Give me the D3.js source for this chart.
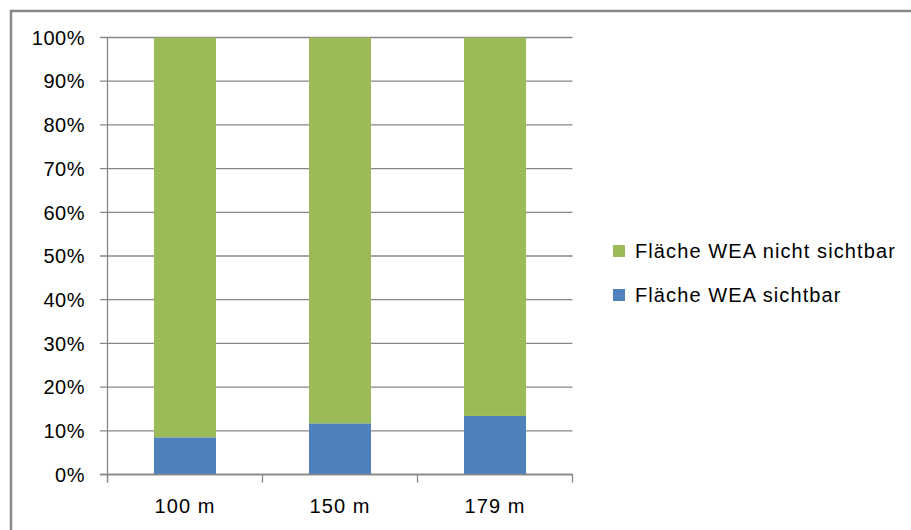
<!DOCTYPE html>
<html>
<head>
<meta charset="utf-8">
<script src="https://cdn.jsdelivr.net/npm/d3@7"></script>
<style>
  html, body { margin: 0; padding: 0; background: #fff; }
  svg { display: block; }
  text { font-family: "Liberation Sans", Arial, sans-serif; fill: #000; }
</style>
</head>
<body>
<svg id="chart" width="911" height="530"></svg>
<script>
const categories = ["100 m", "150 m", "179 m"];
const visible = [0.085, 0.117, 0.134];
const notVisible = [0.915, 0.883, 0.866];
const seriesNames = ["Fläche WEA sichtbar", "Fläche WEA nicht sichtbar"];
const seriesColors = ["#4F81BD", "#9BBB59"];
const yTicks = [0, 0.1, 0.2, 0.3, 0.4, 0.5, 0.6, 0.7, 0.8, 0.9, 1.0];

const svg = d3.select("#chart");
const gridColor = "#878787";

// outer frame (left and top edges visible)
svg.append("path")
  .attr("d", "M11,530 L11,11 L911,11")
  .attr("fill", "none")
  .attr("stroke", gridColor)
  .attr("stroke-width", 2.5);

const x = d3.scaleBand().domain(categories).range([107.5, 572.5]).paddingInner(0.6).paddingOuter(0.3);
const y = d3.scaleLinear().domain([0, 1]).range([474.5, 37.5]);

// gridlines + y ticks
svg.append("g").selectAll("line").data(yTicks).join("line")
  .attr("x1", 100).attr("x2", 572.5)
  .attr("y1", d => y(d)).attr("y2", d => y(d))
  .attr("stroke", gridColor).attr("stroke-width", 1.3);

// y labels
svg.append("g").selectAll("text").data(yTicks).join("text")
  .attr("x", 85).attr("y", d => y(d)).attr("dy", "0.36em")
  .attr("text-anchor", "end")
  .style("font-size", "20px")
  .style("letter-spacing", "0.5px")
  .text(d => d3.format(".0%")(d));

// stacked data
const data = categories.map((c, i) => ({ cat: c, s0: visible[i], s1: notVisible[i] }));
const stack = d3.stack().keys(["s0", "s1"])(data);

svg.append("g").selectAll("g").data(stack).join("g")
  .attr("fill", (d, i) => seriesColors[i])
  .selectAll("rect").data(d => d).join("rect")
  .attr("x", d => x(d.data.cat))
  .attr("width", x.bandwidth())
  .attr("y", d => y(d[1]))
  .attr("height", d => y(d[0]) - y(d[1]));

// y axis line
svg.append("line")
  .attr("x1", 107.5).attr("x2", 107.5).attr("y1", 37.5).attr("y2", 482.5)
  .attr("stroke", gridColor).attr("stroke-width", 1.3);

// x axis baseline
svg.append("line")
  .attr("x1", 100).attr("x2", 572.5).attr("y1", y(0)).attr("y2", y(0))
  .attr("stroke", gridColor).attr("stroke-width", 1.3);

// category boundary ticks
const step = x.step();
const bounds = d3.range(categories.length + 1).map(i => 107.5 + i * step);
svg.append("g").selectAll("line").data(bounds).join("line")
  .attr("x1", d => d).attr("x2", d => d)
  .attr("y1", y(0)).attr("y2", 482.5)
  .attr("stroke", gridColor).attr("stroke-width", 1.3);

// category labels
svg.append("g").selectAll("text").data(categories).join("text")
  .attr("x", d => x(d) + x.bandwidth() / 2)
  .attr("y", 513)
  .attr("text-anchor", "middle")
  .style("font-size", "20px")
  .style("letter-spacing", "1.1px")
  .text(d => d);

// legend (reverse order: top = not visible)
const legendItems = [1, 0];
const lg = svg.append("g").selectAll("g").data(legendItems).join("g")
  .attr("transform", (d, i) => `translate(613, ${251 + i * 44})`);
lg.append("rect")
  .attr("x", 0).attr("y", -6).attr("width", 12).attr("height", 12)
  .attr("fill", d => seriesColors[d]);
lg.append("text")
  .attr("x", 22).attr("y", 0).attr("dy", "0.36em")
  .style("font-size", "20px")
  .style("letter-spacing", "1.1px")
  .text(d => seriesNames[d]);
</script>
</body>
</html>
